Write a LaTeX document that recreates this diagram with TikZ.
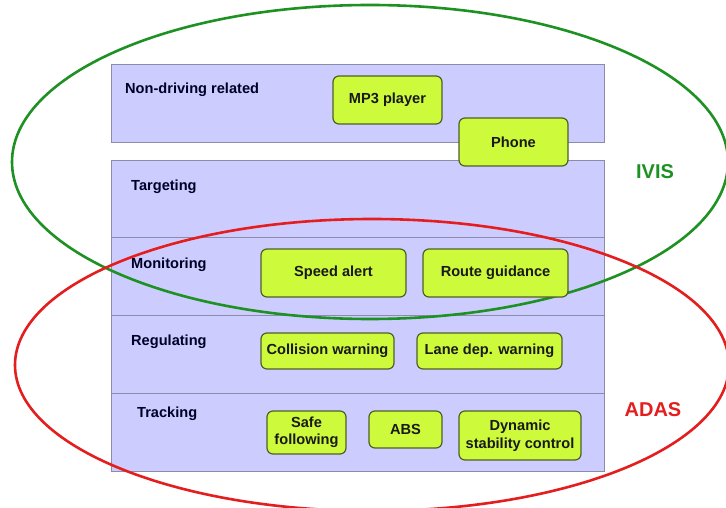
\documentclass[tikz,border=0pt]{standalone}
\usepackage{fontspec}
\setmainfont{Liberation Sans}
\definecolor{bandfill}{RGB}{204,204,255}
\definecolor{bandline}{RGB}{140,140,170}
\definecolor{boxfill}{RGB}{206,250,60}
\definecolor{boxline}{RGB}{80,95,40}
\definecolor{ivisgreen}{RGB}{30,145,35}
\definecolor{adasred}{RGB}{228,30,30}
\tikzset{
  band/.style={draw=bandline, fill=bandfill, line width=0.8pt},
  bandlabel/.style={anchor=base west, inner sep=0pt, font=\fontsize{14.6}{17}\selectfont\bfseries, text=black!85!blue},
  fbox/.style={draw=boxline, fill=boxfill, line width=1.2pt, rounded corners=6pt, inner sep=0pt,
    align=center, font=\fontsize{14.6}{17.5}\selectfont\bfseries, text=black!90},
  setline/.style={line width=2.6pt}
}
\begin{document}
\begin{tikzpicture}[x=1pt,y=-1pt]
\useasboundingbox (0,0) rectangle (726,508);
\fill[white] (0,0) rectangle (726,508);
% bands
\draw[band] (111,64) rectangle (604,142);
\draw[band] (111,160) rectangle (604,237);
\draw[band] (111,237) rectangle (604,315);
\draw[band] (111,315) rectangle (604,393);
\draw[band] (111,393) rectangle (604,471);
\node[bandlabel] (lnon) at (125,94) {Non-driving related};
\node[bandlabel] (ltar) at (131,190) {Targeting};
\node[bandlabel] (lmon) at (131,268) {Monitoring};
\node[bandlabel] (lreg) at (131,345) {Regulating};
\node[bandlabel] (ltra) at (137,417) {Tracking};
% sets
\begin{scope}
\clip (0,0) rectangle (726,508);
\draw[setline, ivisgreen] (370,162) ellipse [x radius=358, y radius=157];
\draw[setline, adasred] (372,365) ellipse [x radius=357, y radius=146];
\end{scope}
% boxes
\node[fbox, minimum width=109, minimum height=48] (mp3) at (387.5,100) {MP3 player};
\node[fbox, minimum width=109, minimum height=48] (phone) at (513.5,142) {Phone};
\node[fbox, minimum width=145, minimum height=48] (speed) at (333.5,273) {Speed alert};
\node[fbox, minimum width=145, minimum height=48] (route) at (495.5,273) {Route guidance};
\node[fbox, minimum width=133, minimum height=36] (coll) at (327.5,351) {Collision warning};
\node[fbox, minimum width=145, minimum height=36] (lane) at (489.5,351) {Lane dep. warning};
\node[fbox, minimum width=79, minimum height=43] (safe) at (306.5,432.5) {Safe\\following};
\node[fbox, minimum width=73, minimum height=37] (abs) at (405.5,429.5) {ABS};
\node[fbox, minimum width=122, minimum height=49] (dyn) at (520,435.5) {Dynamic\\stability control};
% set labels
\node[text=ivisgreen, font=\fontsize{20}{22}\selectfont\bfseries] (ivis) at (655,172) {IVIS};
\node[text=adasred, font=\fontsize{20}{22}\selectfont\bfseries] (adas) at (653,410) {ADAS};
\end{tikzpicture}
\end{document}
